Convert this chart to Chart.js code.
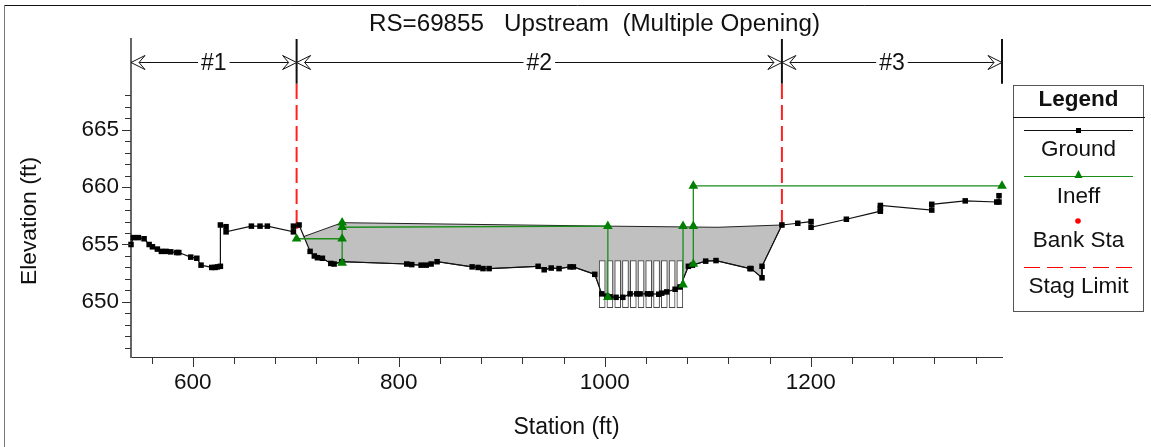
<!DOCTYPE html>
<html>
<head>
<meta charset="utf-8">
<title>RS=69855 Upstream</title>
<script src="https://cdn.jsdelivr.net/npm/chart.js@4"></script>
<style>
  html, body { margin: 0; padding: 0; background: #fff; }
  canvas { display: block; }
</style>
</head>
<body>
<canvas id="sectionChart" width="1151" height="447"></canvas>
<script>
const chartTitle = 'RS=69855   Upstream  (Multiple Opening)';
const xAxisTitle = 'Station (ft)';
const yAxisTitle = 'Elevation (ft)';
const legendTitle = 'Legend';
const seriesNames = ['Ground', 'Ineff', 'Bank Sta', 'Stag Limit'];

const xTickValues = [560, 600, 640, 680, 720, 760, 800, 840, 880, 920, 960, 1000, 1040, 1080, 1120, 1160, 1200, 1240, 1280, 1320, 1360];
const xTickLabels = [600, 800, 1000, 1200];
const yTickValues = [646, 647, 648, 649, 650, 651, 652, 653, 654, 655, 656, 657, 658, 659, 660, 661, 662, 663, 664, 665, 666, 667, 668];
const yTickLabels = [650, 655, 660, 665];

// ground profile
const groundStations = [540, 542.3, 547.2, 552.7, 557.6, 560.8, 565.6, 569.5, 574.1, 578.6, 584.5, 586.4, 598, 603.9, 608, 618.4, 621.6, 623.9, 626.8, 626.8, 632.3, 632.3, 656.9, 665.3, 672.4, 697.7, 697.7, 703.2, 713.9, 718, 721, 725.8, 734, 737.2, 744.7, 807.8, 812.6, 821.7, 826.6, 831.4, 837.2, 871.2, 877, 881.8, 887.7, 935.3, 941.2, 948, 955.6, 966.3, 969.5, 990.3, 997.1, 1002, 1005.1, 1011, 1017.5, 1024.6, 1031.1, 1034.3, 1041.4, 1044.7, 1052.4, 1055.3, 1060.2, 1068.3, 1073.1, 1081.2, 1085.1, 1098, 1108, 1141, 1142, 1152.7, 1152.7, 1172, 1187.4, 1200.3, 1200.3, 1234.6, 1267.6, 1267.6, 1267.6, 1317.5, 1317.5, 1350, 1380.6, 1382.8, 1382.8];
const groundElevations = [655, 655.6, 655.6, 655.5, 655, 654.8, 654.6, 654.4, 654.4, 654.36, 654.3, 654.3, 653.9, 653.8, 653.2, 653, 653, 653.05, 653.1, 656.7, 656.55, 656.1, 656.6, 656.6, 656.6, 656.1, 656.6, 656.7, 654.4, 654, 653.85, 653.8, 653.35, 653.3, 653.5, 653.3, 653.25, 653.2, 653.2, 653.3, 653.5, 653.05, 653, 652.9, 652.9, 653.1, 652.8, 652.95, 652.9, 653.05, 653.05, 652.4, 650.7, 650.5, 650.44, 650.4, 650.4, 650.7, 650.7, 650.7, 650.7, 650.7, 650.67, 650.76, 650.87, 651.1, 651.3, 653.1, 653.2, 653.55, 653.6, 652.9, 652.9, 652.1, 653.1, 656.7, 656.85, 657, 656.5, 657.2, 657.9, 658.15, 658.4, 658, 658.5, 658.8, 658.7, 658.7, 659.25];

// ineffective flow lines, null splits the separate areas
const ineffStations = [700.8, 745, 745, 745, null, 745, 1003, 1003, null, 1076, 1076, null, 1086, 1086, 1086, 1385.7];
const ineffElevations = [655.5, 655.5, 653.4, 656.9, null, 656.5, 656.6, 650.4, null, 651.5, 656.6, null, 653.3, 656.6, 660.1, 660.1];

const bankStations = [700.8, 1172];
const bankElevations = [656.6, 656.7];

// water surface, the ground closes it from below
const surfaceStations = [708, 745, 1003, 1110, 1172];
const surfaceElevations = [655.7, 656.9, 656.6, 656.5, 656.7];

// bridge openings
const openingStations = [997.5, 1005, 1012.6, 1020.1, 1027.7, 1035.2, 1042.7, 1050.3, 1057.8, 1065.4, 1072.9];
const openingBottom = 649.5;
const openingTop = 653.6;

const stagStations = [700.8, 1172];
const stagLow = 656.7;
const stagHigh = 669;

const sectionStations = [540, 700.8, 1172, 1385.7];
const sectionNames = ['#1', '#2', '#3'];
const sectionElevation = 670.9;
const axisTop = 672.9;

function toPoints(xs, ys) {
    return xs.map((x, i) => ({ x: x, y: ys[i] }));
}

function surfacePolygon() {
    const pts = toPoints(surfaceStations, surfaceElevations);
    const under = toPoints(groundStations, groundElevations).filter(p => p.x > 708 && p.x < 1172);
    return pts.concat(under.reverse());
}

const FONT = '"Liberation Sans", Arial, sans-serif';

// minor and major ticks have different lengths, the library only does one
const tickMarks = {
    id: 'tickMarks',
    afterDraw(chart) {
        const c = chart.ctx, sx = chart.scales.x, sy = chart.scales.y;
        c.save();
        c.strokeStyle = '#333';
        c.lineWidth = 1;
        c.beginPath();
        sx.ticks.forEach(t => {
            const px = Math.round(sx.getPixelForValue(t.value)) + 0.5;
            c.moveTo(px, sx.top);
            c.lineTo(px, sx.top + (xTickLabels.includes(t.value) ? 10 : 7));
        });
        sy.ticks.forEach(t => {
            const py = Math.round(sy.getPixelForValue(t.value)) + 0.5;
            c.moveTo(sy.right, py);
            c.lineTo(sy.right - (yTickLabels.includes(t.value) ? 9 : 6), py);
        });
        c.stroke();
        c.restore();
    }
};

function arrowHead(c, x, y, dir) {
    c.beginPath();
    c.moveTo(x, y);
    c.lineTo(x + dir * 14, y - 7);
    c.lineTo(x + dir * 8, y);
    c.lineTo(x + dir * 14, y + 7);
    c.closePath();
    c.fillStyle = '#fff';
    c.fill();
    c.stroke();
}

// #1 #2 #3 dimension lines across the top
const sectionBars = {
    id: 'sectionBars',
    afterDatasetsDraw(chart) {
        const c = chart.ctx, sx = chart.scales.x, sy = chart.scales.y;
        const y = Math.round(sy.getPixelForValue(sectionElevation)) + 0.5;
        c.save();
        c.strokeStyle = '#111';
        c.lineWidth = 1;
        c.font = '23px ' + FONT;
        c.textAlign = 'center';
        c.textBaseline = 'middle';
        sectionNames.forEach((name, i) => {
            const a = sx.getPixelForValue(sectionStations[i]);
            const b = sx.getPixelForValue(sectionStations[i + 1]);
            const mid = (a + b) / 2;
            const half = c.measureText(name).width / 2 + 3;
            c.beginPath();
            c.moveTo(a, y);
            c.lineTo(mid - half, y);
            c.moveTo(mid + half, y);
            c.lineTo(b, y);
            c.stroke();
            arrowHead(c, a, y, 1);
            arrowHead(c, b, y, -1);
            c.fillStyle = '#111';
            c.fillText(name, mid, y + 1);
        });
        c.restore();
    }
};

// page frame, title, y axis title and the boxed legend
const frameAndLegend = {
    id: 'frameAndLegend',
    afterDraw(chart) {
        const c = chart.ctx;
        c.save();
        c.strokeStyle = '#111';
        c.lineWidth = 1;
        c.beginPath();
        c.moveTo(4, 5.5);
        c.lineTo(1151, 5.5);
        c.stroke();
        c.strokeStyle = '#777';
        c.beginPath();
        c.moveTo(4.5, 5);
        c.lineTo(4.5, 447);
        c.stroke();

        c.fillStyle = '#111';
        c.textAlign = 'center';
        c.textBaseline = 'middle';
        c.font = '24.2px ' + FONT;
        c.fillText(chartTitle, 594.5, 24);

        c.save();
        c.translate(30, 221);
        c.rotate(-Math.PI / 2);
        c.font = '22.8px ' + FONT;
        c.fillText(yAxisTitle, 0, 0);
        c.restore();

        c.strokeStyle = '#555';
        c.strokeRect(1013.5, 85.5, 130, 226);
        c.strokeStyle = '#111';
        c.beginPath();
        c.moveTo(1013, 117.5);
        c.lineTo(1145, 117.5);
        c.stroke();

        c.font = 'bold 22.5px ' + FONT;
        c.fillText(legendTitle, 1078.5, 100);
        c.font = '22.5px ' + FONT;
        const textY = [150, 197, 241, 287];
        seriesNames.forEach((name, i) => c.fillText(name, 1078.5, textY[i]));

        c.strokeStyle = '#111';
        c.beginPath();
        c.moveTo(1024, 130.5);
        c.lineTo(1133, 130.5);
        c.stroke();
        c.fillStyle = '#000';
        c.fillRect(1076, 128, 5, 5);

        c.strokeStyle = '#1a8c1a';
        c.beginPath();
        c.moveTo(1024, 176.5);
        c.lineTo(1133, 176.5);
        c.stroke();
        c.fillStyle = '#008000';
        c.beginPath();
        c.moveTo(1078.5, 170);
        c.lineTo(1082.5, 178);
        c.lineTo(1074.5, 178);
        c.closePath();
        c.fill();

        c.fillStyle = '#ff0000';
        c.beginPath();
        c.arc(1078, 221, 2.8, 0, Math.PI * 2);
        c.fill();

        c.strokeStyle = '#ff0000';
        c.setLineDash([16, 7]);
        c.beginPath();
        c.moveTo(1024, 267.5);
        c.lineTo(1133, 267.5);
        c.stroke();
        c.restore();
    }
};

const stagDatasets = stagStations.map(st => ({
    type: 'scatter',
    data: [{ x: st, y: stagLow }, { x: st, y: stagHigh }],
    showLine: true,
    borderColor: '#ff2020',
    borderWidth: 2,
    borderDash: [15, 6],
    pointRadius: 0,
    order: 2
}));

// black ticks over the dashes, between the top of the axis and the stag limit
const sectionLines = sectionStations.slice(1).map(st => ({
    type: 'scatter',
    data: [{ x: st, y: stagHigh }, { x: st, y: axisTop }],
    showLine: true,
    borderColor: '#111',
    borderWidth: 2,
    pointRadius: 0,
    clip: false,
    order: 2
}));

new Chart(document.getElementById('sectionChart'), {
    type: 'scatter',
    data: {
        datasets: [
            {
                label: seriesNames[0],
                data: toPoints(groundStations, groundElevations),
                showLine: true,
                borderColor: '#111',
                borderWidth: 1.2,
                pointStyle: 'rect',
                pointRadius: 3.9,
                pointBorderWidth: 0,
                pointBackgroundColor: '#000',
                clip: false,
                order: 1
            },
            {
                label: seriesNames[1],
                data: toPoints(ineffStations, ineffElevations),
                showLine: true,
                borderColor: '#1a8c1a',
                borderWidth: 1.3,
                pointStyle: 'triangle',
                pointRadius: 5.6,
                pointBorderWidth: 0,
                pointBackgroundColor: '#008000',
                clip: false,
                order: 0
            },
            {
                label: seriesNames[2],
                data: toPoints(bankStations, bankElevations),
                showLine: false,
                pointRadius: 2.5,
                pointBorderWidth: 0,
                pointBackgroundColor: '#ff0000',
                order: 3
            },
            {
                label: 'Openings',
                type: 'bar',
                data: openingStations.map(st => ({ x: st, y: [openingBottom, openingTop] })),
                backgroundColor: '#fff',
                borderColor: '#444',
                borderWidth: 1,
                borderSkipped: false,
                barThickness: 6,
                order: 4
            },
            {
                label: 'Water surface',
                data: surfacePolygon(),
                showLine: true,
                fill: 'shape',
                backgroundColor: '#c0c0c0',
                borderColor: '#222',
                borderWidth: 1,
                pointRadius: 0,
                order: 5
            },
            ...stagDatasets,
            ...sectionLines
        ]
    },
    options: {
        responsive: false,
        animation: false,
        layout: { autoPadding: false, padding: { top: 39, right: 149, bottom: 0, left: 0 } },
        plugins: {
            legend: { display: false },
            tooltip: { enabled: false }
        },
        scales: {
            x: {
                type: 'linear',
                offset: false,
                min: 540,
                max: 1385.7,
                grid: { display: false, drawTicks: false, offset: false },
                border: { display: true, color: '#333', width: 1 },
                afterBuildTicks: scale => { scale.ticks = xTickValues.map(v => ({ value: v })); },
                afterFit: scale => { scale.height = 90; },
                ticks: {
                    autoSkip: false,
                    maxRotation: 0,
                    padding: 12,
                    color: '#111',
                    font: { family: FONT, size: 22.5 },
                    callback: v => xTickLabels.includes(v) ? String(v) : ''
                },
                title: {
                    display: true,
                    text: xAxisTitle,
                    color: '#111',
                    font: { family: FONT, size: 23 },
                    padding: { top: 0, bottom: 6 }
                }
            },
            y: {
                type: 'linear',
                min: 645.2,
                max: axisTop,
                grid: { display: false, drawTicks: false },
                border: { display: true, color: '#666', width: 2 },
                afterBuildTicks: scale => { scale.ticks = yTickValues.map(v => ({ value: v })); },
                afterFit: scale => { scale.width = 131; },
                ticks: {
                    autoSkip: false,
                    padding: 12,
                    color: '#111',
                    font: { family: FONT, size: 22.5 },
                    callback: v => yTickLabels.includes(v) ? String(v) : ''
                }
            }
        }
    },
    plugins: [tickMarks, sectionBars, frameAndLegend]
});
</script>
</body>
</html>
